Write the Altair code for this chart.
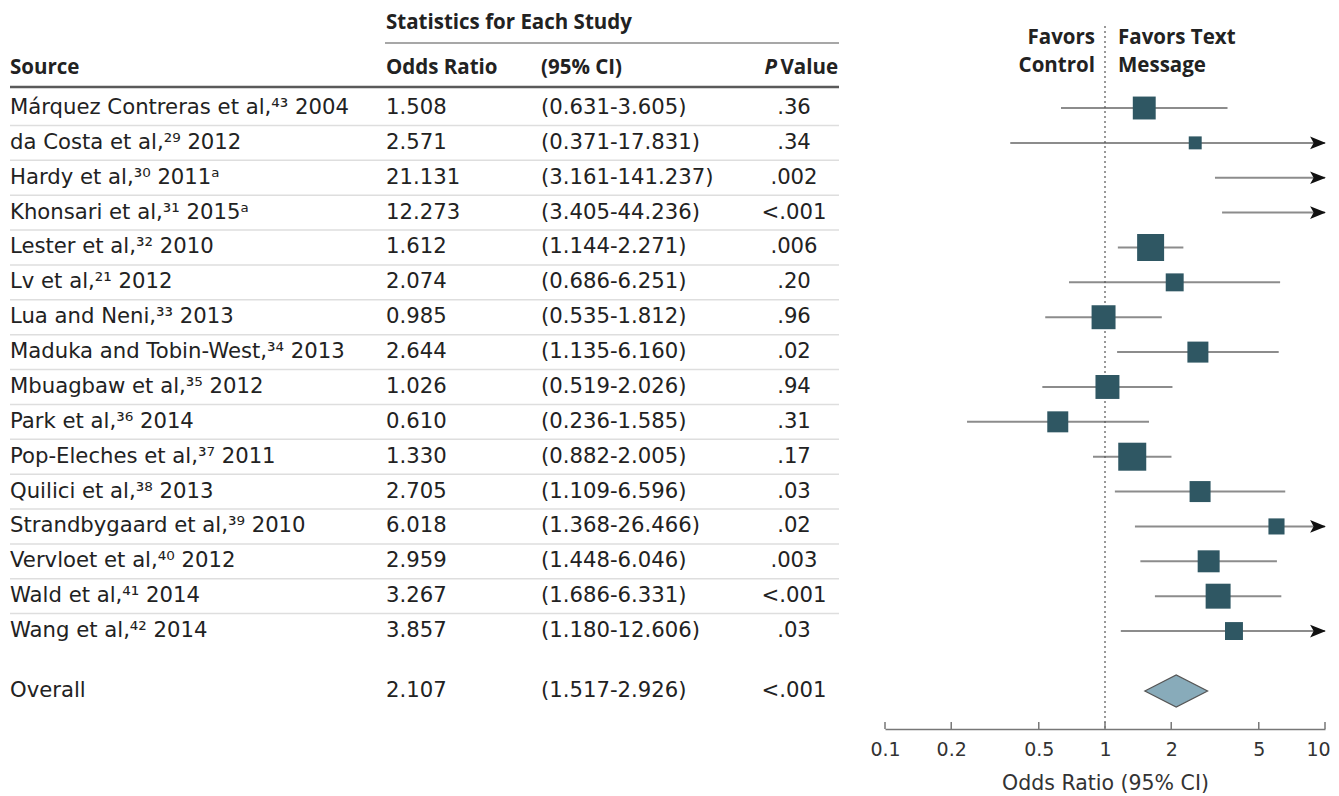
import altair as alt
import pandas as pd

# ---------------- data ----------------
sources = [
    "Márquez Contreras et al,⁴³ 2004",
    "da Costa et al,²⁹ 2012",
    "Hardy et al,³⁰ 2011ᵃ",
    "Khonsari et al,³¹ 2015ᵃ",
    "Lester et al,³² 2010",
    "Lv et al,²¹ 2012",
    "Lua and Neni,³³ 2013",
    "Maduka and Tobin-West,³⁴ 2013",
    "Mbuagbaw et al,³⁵ 2012",
    "Park et al,³⁶ 2014",
    "Pop-Eleches et al,³⁷ 2011",
    "Quilici et al,³⁸ 2013",
    "Strandbygaard et al,³⁹ 2010",
    "Vervloet et al,⁴⁰ 2012",
    "Wald et al,⁴¹ 2014",
    "Wang et al,⁴² 2014",
]
odds = [1.508, 2.571, 21.131, 12.273, 1.612, 2.074, 0.985, 2.644, 1.026,
        0.610, 1.330, 2.705, 6.018, 2.959, 3.267, 3.857]
lower = [0.631, 0.371, 3.161, 3.405, 1.144, 0.686, 0.535, 1.135, 0.519,
         0.236, 0.882, 1.109, 1.368, 1.448, 1.686, 1.180]
upper = [3.605, 17.831, 141.237, 44.236, 2.271, 6.251, 1.812, 6.160, 2.026,
         1.585, 2.005, 6.596, 26.466, 6.046, 6.331, 12.606]
pvals = [".36", ".34", ".002", "<.001", ".006", ".20", ".96", ".02", ".94",
         ".31", ".17", ".03", ".02", ".003", "<.001", ".03"]
weights = [7.5, 2.4, 1.4, 1.6, 10.4, 4.6, 8.2, 6.3, 8.2, 6.3, 11.2, 6.3,
           3.7, 6.9, 8.9, 4.6]

overall_label = "Overall"
overall_or = 2.107
overall_lo = 1.517
overall_hi = 2.926
overall_p = "<.001"

tick_values = [0.1, 0.2, 0.5, 1, 2, 5, 10]
x_min, x_max = 0.1, 10

# ---------------- layout / style ----------------
FONT = "DejaVu Sans"
HFONT = "Open Sans"
FS = 21.2
HFS = 20.5
TXT = "#222222"
DX = 2
W, H = 1300, 721
OVERALL_ROW = 16.72
Y_DOMAIN = [-2.868, 17.809]
ysc = alt.Scale(domain=Y_DOMAIN, reverse=True, nice=False, zero=False)
xsc = alt.Scale(type="log", domain=[x_min, x_max], range=[877, 1317], nice=False)
AX = alt.Axis(
    values=tick_values, format="~g", title="Odds Ratio (95% CI)", ticks=False,
    grid=False, domainColor="#777777", domainWidth=1.5, labelFont=FONT,
    labelFontSize=19, labelColor="#333333", labelPadding=11, labelFlush=False,
    labelOffset={"condition": {"test": "datum.value >= 10", "value": -7}, "value": 0},
    titleFont=FONT, titleFontSize=20.5, titleFontWeight="normal", titleColor="#333333",
    titlePadding=14)

n = len(sources)
table = pd.DataFrame({
    "r": list(range(n)) + [OVERALL_ROW],
    "source": sources + [overall_label],
    "ortxt": [f"{v:.3f}" for v in odds] + [f"{overall_or:.3f}"],
    "citxt": [f"({a:.3f}-{b:.3f})" for a, b in zip(lower, upper)]
             + [f"({overall_lo:.3f}-{overall_hi:.3f})"],
    "p": pvals + [overall_p],
})

study = pd.DataFrame({"r": list(range(n)), "or": odds, "lo": lower, "hi": upper, "w": weights})
study["hi_c"] = study["hi"].clip(upper=x_max)
squares = study[study["or"] <= x_max]
arrows = study[study["hi"] > x_max].assign(cap=x_max)


def Y(f="r"):
    return alt.Y(f + ":Q", scale=ysc, axis=None)


def X(f):
    return alt.X(f + ":Q", scale=xsc, axis=AX)


def text_layer(df, field, x, align="left", weight="normal", style="normal",
               size=FS, font=FONT):
    return alt.Chart(df).mark_text(
        align=align, baseline="middle", font=font, fontSize=size,
        fontWeight=weight, fontStyle=style, color=TXT
    ).encode(x=alt.value(x + DX), y=Y(), text=alt.Text(field + ":N"))


layers = []

# forest: CI lines first (carries the x axis)
layers.append(alt.Chart(study).mark_rule(color="#8c8c8c", strokeWidth=2).encode(
    x=X("lo"), x2="hi_c:Q", y=Y()))

# reference dotted line at OR = 1
ref = pd.DataFrame({"lo": [1.0], "y1": [-2.35], "y2": [Y_DOMAIN[1]]})
layers.append(alt.Chart(ref).mark_rule(color="#555555", strokeWidth=1.2, strokeDash=[2, 3]).encode(
    x=X("lo"), y=Y("y1"), y2="y2:Q"))

# axis ticks pointing up
ticks = pd.DataFrame({"lo": tick_values})
layers.append(alt.Chart(ticks).mark_rule(color="#777777", strokeWidth=1.5).encode(
    x=X("lo"), y=alt.value(H - 7), y2=alt.value(H)))

# arrows for CIs beyond the axis
arrow_shape = "M1,0 L-1,-0.8 L-0.55,0 L-1,0.8 Z"
layers.append(alt.Chart(arrows.assign(lo=arrows["cap"])).mark_point(
    shape=arrow_shape, filled=True, color="#111111", size=250, xOffset=-7, opacity=1
).encode(x=X("lo"), y=Y()))

# study squares
layers.append(alt.Chart(squares.assign(lo=squares["or"])).mark_square(color="#2f5763", opacity=1).encode(
    x=X("lo"), y=Y(),
    size=alt.Size("w:Q", scale=alt.Scale(domain=[0, 11.2], range=[0, 784]), legend=None)))

# overall diamond
half = 0.46
dia = pd.DataFrame({
    "lo": [overall_lo, overall_or, overall_hi],
    "yt": [OVERALL_ROW, OVERALL_ROW - half, OVERALL_ROW],
    "yb": [OVERALL_ROW, OVERALL_ROW + half, OVERALL_ROW],
})
layers.append(alt.Chart(dia).mark_area(color="#88abba", stroke="#555555", strokeWidth=1.2, opacity=1).encode(
    x=X("lo"), y=Y("yt"), y2="yb:Q"))

# row separators
sep = pd.DataFrame({"r": [i + 0.5 for i in range(n - 1)]})
layers.append(alt.Chart(sep).mark_rule(color="#dedede", strokeWidth=1.5).encode(
    y=Y(), x=alt.value(2), x2=alt.value(831)))

# header lines
hl1 = pd.DataFrame({"r": [-1.864]})
layers.append(alt.Chart(hl1).mark_rule(color="#8a8a8a", strokeWidth=1.5).encode(
    y=Y(), x=alt.value(377), x2=alt.value(831)))
hl2 = pd.DataFrame({"r": [-0.602]})
layers.append(alt.Chart(hl2).mark_rule(color="#5a5a5a", strokeWidth=2.5).encode(
    y=Y(), x=alt.value(2), x2=alt.value(831)))

# header texts
h_top = pd.DataFrame({"r": [-2.44], "t": ["Statistics for Each Study"]})
layers.append(text_layer(h_top, "t", 376, weight="bold", size=HFS, font=HFONT))
hdr = -1.147
for t, x, al, st in [("Source", 0, "left", "normal"), ("Odds Ratio", 376, "left", "normal"),
                     ("(95% CI)", 531, "left", "normal"), ("Value", 828, "right", "normal"),
                     ("P", 767, "right", "italic")]:
    layers.append(text_layer(pd.DataFrame({"r": [hdr], "t": [t]}), "t", x, align=al,
                             weight="bold", style=st, size=HFS, font=HFONT))

# table body
layers.append(text_layer(table, "source", 0))
layers.append(text_layer(table, "ortxt", 376))
layers.append(text_layer(table, "citxt", 531))
layers.append(text_layer(table, "p", 784, align="center"))

# favors labels
fav = pd.DataFrame({"r": [-2.007, -1.204], "l": ["Favors", "Control"], "rt": ["Favors Text", "Message"]})
layers.append(text_layer(fav, "l", 1085, align="right", weight="bold", size=HFS, font=HFONT))
layers.append(text_layer(fav, "rt", 1108, align="left", weight="bold", size=HFS, font=HFONT))

chart = alt.layer(*layers).properties(
    width=W, height=H, padding=0, background="white"
).configure_view(stroke=None)

chart.save("out.html", embed_options={"renderer": "svg", "actions": False})
